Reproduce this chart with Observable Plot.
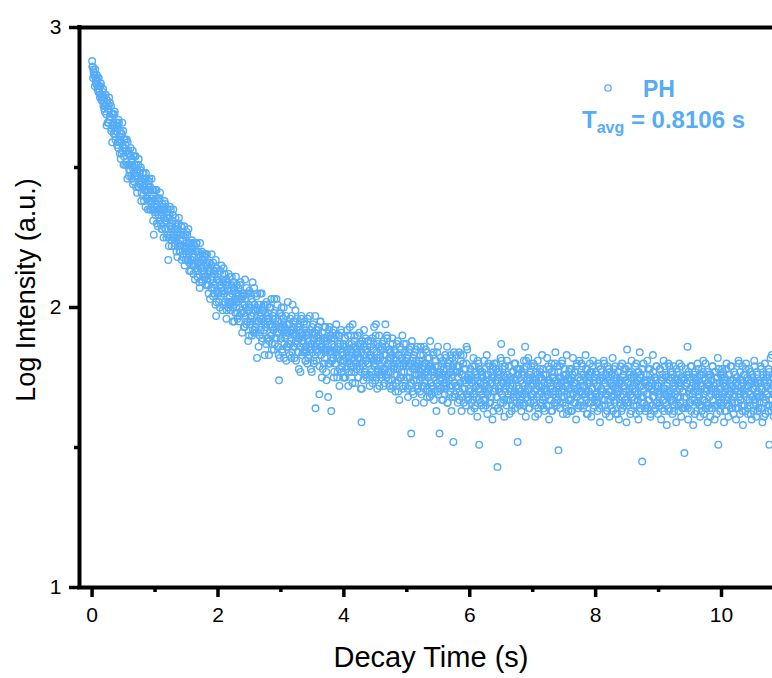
<!DOCTYPE html>
<html>
<head>
<meta charset="utf-8">
<script src="https://cdn.jsdelivr.net/npm/d3@7"></script>
<script src="https://cdn.jsdelivr.net/npm/@observablehq/plot@0.6"></script>
<style>
  html, body { margin: 0; padding: 0; background: #fff; }
  #chart { width: 772px; height: 678px; }
</style>
</head>
<body>
<div id="chart"></div>
<script>
// Sample times (s), first half of readouts
const decayTime = [
0.00,0.01,0.02,0.03,0.04,0.05,0.06,0.07,0.08,0.09,0.10,0.11,0.12,0.13,0.14,0.15,0.16,0.17,0.18,0.19,
0.20,0.21,0.22,0.23,0.24,0.25,0.26,0.27,0.28,0.29,0.30,0.31,0.32,0.33,0.34,0.35,0.36,0.37,0.38,0.39,
0.40,0.41,0.42,0.43,0.44,0.45,0.46,0.47,0.48,0.49,0.50,0.51,0.52,0.53,0.54,0.55,0.56,0.57,0.58,0.59,
0.60,0.61,0.62,0.63,0.64,0.65,0.66,0.67,0.68,0.69,0.70,0.71,0.72,0.73,0.74,0.75,0.76,0.77,0.78,0.79,
0.80,0.81,0.82,0.83,0.84,0.85,0.86,0.87,0.88,0.89,0.90,0.91,0.92,0.93,0.94,0.95,0.96,0.97,0.98,0.99,
1.00,1.01,1.02,1.03,1.04,1.05,1.06,1.07,1.08,1.09,1.10,1.11,1.12,1.13,1.14,1.15,1.16,1.17,1.18,1.19,
1.20,1.21,1.22,1.23,1.24,1.25,1.26,1.27,1.28,1.29,1.30,1.31,1.32,1.33,1.34,1.35,1.36,1.37,1.38,1.39,
1.40,1.41,1.42,1.43,1.44,1.45,1.46,1.47,1.48,1.49,1.50,1.51,1.52,1.53,1.54,1.55,1.56,1.57,1.58,1.59,
1.60,1.61,1.62,1.63,1.64,1.65,1.66,1.67,1.68,1.69,1.70,1.71,1.72,1.73,1.74,1.75,1.76,1.77,1.78,1.79,
1.80,1.81,1.82,1.83,1.84,1.85,1.86,1.87,1.88,1.89,1.90,1.91,1.92,1.93,1.94,1.95,1.96,1.97,1.98,1.99,
2.00,2.01,2.02,2.03,2.04,2.05,2.06,2.07,2.08,2.09,2.10,2.11,2.12,2.13,2.14,2.15,2.16,2.17,2.18,2.19,
2.20,2.21,2.22,2.23,2.24,2.25,2.26,2.27,2.28,2.29,2.30,2.31,2.32,2.33,2.34,2.35,2.36,2.37,2.38,2.39,
2.40,2.41,2.42,2.43,2.44,2.45,2.46,2.47,2.48,2.49,2.50,2.51,2.52,2.53,2.54,2.55,2.56,2.57,2.58,2.59,
2.60,2.61,2.62,2.63,2.64,2.65,2.66,2.67,2.68,2.69,2.70,2.71,2.72,2.73,2.74,2.75,2.76,2.77,2.78,2.79,
2.80,2.81,2.82,2.83,2.84,2.85,2.86,2.87,2.88,2.89,2.90,2.91,2.92,2.93,2.94,2.95,2.96,2.97,2.98,2.99,
3.00,3.01,3.02,3.03,3.04,3.05,3.06,3.07,3.08,3.09,3.10,3.11,3.12,3.13,3.14,3.15,3.16,3.17,3.18,3.19,
3.20,3.21,3.22,3.23,3.24,3.25,3.26,3.27,3.28,3.29,3.30,3.31,3.32,3.33,3.34,3.35,3.36,3.37,3.38,3.39,
3.40,3.41,3.42,3.43,3.44,3.45,3.46,3.47,3.48,3.49,3.50,3.51,3.52,3.53,3.54,3.55,3.56,3.57,3.58,3.59,
3.60,3.61,3.62,3.63,3.64,3.65,3.66,3.67,3.68,3.69,3.70,3.71,3.72,3.73,3.74,3.75,3.76,3.77,3.78,3.79,
3.80,3.81,3.82,3.83,3.84,3.85,3.86,3.87,3.88,3.89,3.90,3.91,3.92,3.93,3.94,3.95,3.96,3.97,3.98,3.99,
4.00,4.01,4.02,4.03,4.04,4.05,4.06,4.07,4.08,4.09,4.10,4.11,4.12,4.13,4.14,4.15,4.16,4.17,4.18,4.19,
4.20,4.21,4.22,4.23,4.24,4.25,4.26,4.27,4.28,4.29,4.30,4.31,4.32,4.33,4.34,4.35,4.36,4.37,4.38,4.39,
4.40,4.41,4.42,4.43,4.44,4.45,4.46,4.47,4.48,4.49,4.50,4.51,4.52,4.53,4.54,4.55,4.56,4.57,4.58,4.59,
4.60,4.61,4.62,4.63,4.64,4.65,4.66,4.67,4.68,4.69,4.70,4.71,4.72,4.73,4.74,4.75,4.76,4.77,4.78,4.79,
4.80,4.81,4.82,4.83,4.84,4.85,4.86,4.87,4.88,4.89,4.90,4.91,4.92,4.93,4.94,4.95,4.96,4.97,4.98,4.99,
5.00,5.01,5.02,5.03,5.04,5.05,5.06,5.07,5.08,5.09,5.10,5.11,5.12,5.13,5.14,5.15,5.16,5.17,5.18,5.19,
5.20,5.21,5.22,5.23,5.24,5.25,5.26,5.27,5.28,5.29,5.30,5.31,5.32,5.33,5.34,5.35,5.36,5.37,5.38,5.39,
5.40,5.41,5.42,5.43,5.44,5.45,5.46,5.47,5.48,5.49,5.50,5.51,5.52,5.53,5.54,5.55,5.56,5.57,5.58,5.59,
5.60,5.61,5.62,5.63,5.64,5.65,5.66,5.67,5.68,5.69,5.70,5.71,5.72,5.73,5.74,5.75,5.76,5.77,5.78,5.79,
5.80,5.81,5.82,5.83,5.84,5.85,5.86,5.87,5.88,5.89,5.90,5.91,5.92,5.93,5.94,5.95,5.96,5.97,5.98,5.99,
6.00,6.01,6.02,6.03,6.04,6.05,6.06,6.07,6.08,6.09,6.10,6.11,6.12,6.13,6.14,6.15,6.16,6.17,6.18,6.19,
6.20,6.21,6.22,6.23,6.24,6.25,6.26,6.27,6.28,6.29,6.30,6.31,6.32,6.33,6.34,6.35,6.36,6.37,6.38,6.39,
6.40,6.41,6.42,6.43,6.44,6.45,6.46,6.47,6.48,6.49,6.50,6.51,6.52,6.53,6.54,6.55,6.56,6.57,6.58,6.59,
6.60,6.61,6.62,6.63,6.64,6.65,6.66,6.67,6.68,6.69,6.70,6.71,6.72,6.73,6.74,6.75,6.76,6.77,6.78,6.79,
6.80,6.81,6.82,6.83,6.84,6.85,6.86,6.87,6.88,6.89,6.90,6.91,6.92,6.93,6.94,6.95,6.96,6.97,6.98,6.99,
7.00,7.01,7.02,7.03,7.04,7.05,7.06,7.07,7.08,7.09,7.10,7.11,7.12,7.13,7.14,7.15,7.16,7.17,7.18,7.19,
7.20,7.21,7.22,7.23,7.24,7.25,7.26,7.27,7.28,7.29,7.30,7.31,7.32,7.33,7.34,7.35,7.36,7.37,7.38,7.39,
7.40,7.41,7.42,7.43,7.44,7.45,7.46,7.47,7.48,7.49,7.50,7.51,7.52,7.53,7.54,7.55,7.56,7.57,7.58,7.59,
7.60,7.61,7.62,7.63,7.64,7.65,7.66,7.67,7.68,7.69,7.70,7.71,7.72,7.73,7.74,7.75,7.76,7.77,7.78,7.79,
7.80,7.81,7.82,7.83,7.84,7.85,7.86,7.87,7.88,7.89,7.90,7.91,7.92,7.93,7.94,7.95,7.96,7.97,7.98,7.99,
8.00,8.01,8.02,8.03,8.04,8.05,8.06,8.07,8.08,8.09,8.10,8.11,8.12,8.13,8.14,8.15,8.16,8.17,8.18,8.19,
8.20,8.21,8.22,8.23,8.24,8.25,8.26,8.27,8.28,8.29,8.30,8.31,8.32,8.33,8.34,8.35,8.36,8.37,8.38,8.39,
8.40,8.41,8.42,8.43,8.44,8.45,8.46,8.47,8.48,8.49,8.50,8.51,8.52,8.53,8.54,8.55,8.56,8.57,8.58,8.59,
8.60,8.61,8.62,8.63,8.64,8.65,8.66,8.67,8.68,8.69,8.70,8.71,8.72,8.73,8.74,8.75,8.76,8.77,8.78,8.79,
8.80,8.81,8.82,8.83,8.84,8.85,8.86,8.87,8.88,8.89,8.90,8.91,8.92,8.93,8.94,8.95,8.96,8.97,8.98,8.99,
9.00,9.01,9.02,9.03,9.04,9.05,9.06,9.07,9.08,9.09,9.10,9.11,9.12,9.13,9.14,9.15,9.16,9.17,9.18,9.19,
9.20,9.21,9.22,9.23,9.24,9.25,9.26,9.27,9.28,9.29,9.30,9.31,9.32,9.33,9.34,9.35,9.36,9.37,9.38,9.39,
9.40,9.41,9.42,9.43,9.44,9.45,9.46,9.47,9.48,9.49,9.50,9.51,9.52,9.53,9.54,9.55,9.56,9.57,9.58,9.59,
9.60,9.61,9.62,9.63,9.64,9.65,9.66,9.67,9.68,9.69,9.70,9.71,9.72,9.73,9.74,9.75,9.76,9.77,9.78,9.79,
9.80,9.81,9.82,9.83,9.84,9.85,9.86,9.87,9.88,9.89,9.90,9.91,9.92,9.93,9.94,9.95,9.96,9.97,9.98,9.99,
10.00,10.01,10.02,10.03,10.04,10.05,10.06,10.07,10.08,10.09,10.10,10.11,10.12,10.13,10.14,10.15,10.16,10.17,10.18,10.19,
10.20,10.21,10.22,10.23,10.24,10.25,10.26,10.27,10.28,10.29,10.30,10.31,10.32,10.33,10.34,10.35,10.36,10.37,10.38,10.39,
10.40,10.41,10.42,10.43,10.44,10.45,10.46,10.47,10.48,10.49,10.50,10.51,10.52,10.53,10.54,10.55,10.56,10.57,10.58,10.59,
10.60,10.61,10.62,10.63,10.64,10.65,10.66,10.67,10.68,10.69,10.70,10.71,10.72,10.73,10.74,10.75,10.76,10.77,10.78,10.79,
10.80,10.81,10.82,10.83,10.84,10.85,10.86,10.87,10.88,10.89,10.90,10.91,10.92,10.93,10.94,10.95,10.96,10.97,10.98,10.99
];

// Log intensity (a.u.) at decayTime
const logIntensity = [
2.88,2.86,2.85,2.83,2.83,2.85,2.80,2.80,2.81,2.82,2.77,2.78,2.79,2.76,2.80,2.74,2.75,2.77,2.72,2.75,
2.70,2.76,2.72,2.65,2.74,2.71,2.66,2.75,2.68,2.68,2.72,2.64,2.59,2.69,2.66,2.64,2.70,2.60,2.63,2.66,
2.66,2.59,2.67,2.61,2.55,2.60,2.62,2.55,2.66,2.57,2.51,2.60,2.60,2.56,2.52,2.60,2.46,2.55,2.56,2.49,
2.51,2.57,2.47,2.53,2.50,2.44,2.54,2.50,2.47,2.54,2.43,2.48,2.49,2.43,2.53,2.45,2.44,2.49,2.38,2.45,
2.46,2.40,2.48,2.42,2.46,2.36,2.42,2.46,2.39,2.42,2.38,2.46,2.35,2.42,2.39,2.38,2.42,2.31,2.26,2.35,
2.34,2.42,2.37,2.30,2.36,2.39,2.33,2.35,2.41,2.30,2.34,2.28,2.36,2.35,2.32,2.38,2.28,2.31,2.25,2.34,
2.35,2.17,2.22,2.32,2.29,2.35,2.24,2.29,2.25,2.35,2.26,2.22,2.28,2.30,2.20,2.26,2.28,2.23,2.32,2.20,
2.20,2.26,2.29,2.22,2.18,2.26,2.22,2.15,2.26,2.22,2.19,2.26,2.17,2.28,2.16,2.20,2.21,2.13,2.22,2.17,
2.21,2.12,2.18,2.22,2.15,2.13,2.23,2.16,2.13,2.18,2.19,2.07,2.16,2.14,2.20,2.09,2.17,2.12,2.13,2.18,
2.11,2.19,2.08,2.12,2.15,2.05,2.13,2.16,2.10,2.07,2.19,2.11,2.04,2.13,2.07,2.13,2.01,1.97,2.14,2.05,
2.12,2.05,2.09,2.00,2.13,2.07,2.05,2.10,2.01,2.14,2.05,2.02,2.08,2.10,1.99,2.06,2.02,2.12,2.02,2.04,
1.99,2.06,2.11,2.02,2.00,2.07,1.95,2.03,2.05,2.00,2.08,1.96,2.03,2.05,1.97,2.03,2.09,1.98,1.99,2.05,
2.04,1.93,2.01,2.10,1.97,1.94,2.05,1.99,1.88,2.01,2.06,1.94,1.97,2.03,1.90,2.09,1.98,1.91,2.01,1.95,
1.93,2.04,1.82,1.99,2.01,1.95,1.90,2.05,1.97,1.93,1.88,1.99,1.95,2.01,1.83,1.98,1.93,2.02,1.89,1.95,
1.96,1.83,2.00,1.91,1.94,2.03,1.87,1.97,1.92,1.85,1.98,1.94,1.89,2.03,1.91,1.86,1.95,1.74,1.82,1.98,
1.89,2.00,1.85,1.93,1.96,1.82,1.93,1.90,1.97,1.86,1.91,2.02,1.87,1.94,1.83,1.96,1.88,1.97,1.84,1.91,
1.95,1.86,1.90,1.99,1.81,1.92,1.87,1.93,1.84,1.89,1.92,1.77,1.96,1.88,1.91,1.84,1.88,1.95,1.85,1.81,
1.86,1.94,1.80,1.91,1.88,1.83,1.97,1.85,1.87,1.77,1.91,1.94,1.81,1.89,1.86,1.64,1.92,1.87,1.84,1.92,
1.90,1.69,1.86,1.95,1.83,1.75,1.91,1.85,1.80,1.88,1.93,1.84,1.77,1.88,1.85,1.68,1.80,1.93,1.80,1.84,
1.63,1.87,1.91,1.82,1.75,1.89,1.84,1.80,1.94,1.83,1.77,1.86,1.90,1.72,1.87,1.81,1.91,1.79,1.84,1.75,
1.86,1.75,1.89,1.82,1.78,1.92,1.85,1.72,1.87,1.83,1.80,1.90,1.77,1.84,1.94,1.79,1.81,1.88,1.73,1.86,
1.78,1.84,1.90,1.75,1.82,1.79,1.87,1.71,1.59,1.88,1.80,1.74,1.92,1.77,1.85,1.81,1.75,1.85,1.80,1.88,
1.82,1.72,1.86,1.83,1.77,1.89,1.75,1.81,1.93,1.79,1.74,1.94,1.82,1.71,1.87,1.78,1.90,1.76,1.82,1.79,
1.75,1.87,1.78,1.72,1.83,1.81,1.94,1.86,1.76,1.89,1.80,1.74,1.82,1.85,1.77,1.71,1.83,1.89,1.72,1.80,
1.85,1.76,1.70,1.81,1.87,1.78,1.74,1.83,1.67,1.86,1.79,1.75,1.82,1.90,1.71,1.80,1.77,1.84,1.72,1.87,
1.75,1.83,1.68,1.79,1.85,1.72,1.80,1.55,1.88,1.70,1.82,1.74,1.78,1.84,1.66,1.81,1.76,1.86,1.72,1.78,
1.81,1.70,1.86,1.75,1.72,1.78,1.83,1.66,1.80,1.74,1.85,1.77,1.68,1.82,1.76,1.79,1.70,1.88,1.73,1.69,
1.78,1.72,1.83,1.67,1.77,1.81,1.74,1.63,1.84,1.70,1.79,1.76,1.55,1.71,1.75,1.79,1.67,1.81,1.72,1.76,
1.69,1.83,1.75,1.72,1.86,1.66,1.79,1.74,1.81,1.70,1.77,1.63,1.82,1.76,1.52,1.84,1.68,1.77,1.72,1.79,
1.77,1.66,1.79,1.84,1.70,1.73,1.81,1.63,1.76,1.68,1.83,1.74,1.71,1.78,1.65,1.86,1.85,1.68,1.74,1.71,
1.70,1.78,1.63,1.75,1.73,1.67,1.82,1.69,1.79,1.65,1.72,1.76,1.61,1.74,1.80,1.51,1.71,1.77,1.66,1.75,
1.77,1.69,1.64,1.81,1.72,1.67,1.74,1.83,1.62,1.76,1.71,1.66,1.79,1.73,1.68,1.75,1.60,1.78,1.70,1.80,
1.65,1.74,1.80,1.68,1.43,1.77,1.71,1.63,1.76,1.82,1.87,1.69,1.78,1.66,1.73,1.61,1.79,1.75,1.67,1.81,
1.73,1.67,1.79,1.62,1.75,1.70,1.84,1.65,1.72,1.77,1.69,1.80,1.64,1.74,1.68,1.78,1.52,1.76,1.71,1.66,
1.78,1.70,1.63,1.76,1.73,1.66,1.81,1.69,1.86,1.61,1.79,1.74,1.67,1.82,1.71,1.64,1.75,1.77,1.68,1.72,
1.69,1.80,1.66,1.74,1.61,1.77,1.73,1.68,1.81,1.64,1.75,1.72,1.78,1.70,1.65,1.83,1.67,1.76,1.71,1.63,
1.76,1.71,1.65,1.82,1.69,1.74,1.60,1.78,1.73,1.67,1.80,1.63,1.75,1.70,1.77,1.66,1.84,1.68,1.72,1.79,
1.67,1.49,1.75,1.79,1.64,1.73,1.70,1.81,1.62,1.76,1.68,1.78,1.72,1.66,1.83,1.69,1.74,1.63,1.77,1.71,
1.74,1.63,1.78,1.69,1.82,1.66,1.73,1.71,1.77,1.60,1.80,1.68,1.75,1.65,1.81,1.72,1.67,1.76,1.70,1.79,
1.64,1.76,1.72,1.68,1.83,1.70,1.62,1.78,1.75,1.66,1.73,1.80,1.69,1.61,1.77,1.71,1.81,1.65,1.74,1.67,
1.77,1.68,1.72,1.63,1.80,1.66,1.74,1.59,1.78,1.71,1.65,1.75,1.70,1.81,1.67,1.73,1.62,1.76,1.69,1.79,
1.67,1.78,1.61,1.73,1.70,1.76,1.64,1.82,1.68,1.72,1.66,1.79,1.62,1.75,1.71,1.69,1.77,1.60,1.74,1.65,
1.74,1.63,1.80,1.69,1.76,1.65,1.72,1.67,1.78,1.59,1.85,1.73,1.66,1.77,1.70,1.62,1.75,1.81,1.68,1.71,
1.65,1.75,1.70,1.79,1.62,1.73,1.77,1.67,1.60,1.74,1.84,1.64,1.76,1.72,1.45,1.68,1.80,1.66,1.73,1.63,
1.76,1.69,1.81,1.64,1.72,1.67,1.78,1.61,1.74,1.71,1.65,1.83,1.68,1.63,1.75,1.72,1.66,1.79,1.70,1.62,
1.72,1.65,1.78,1.69,1.60,1.74,1.76,1.67,1.81,1.63,1.71,1.66,1.75,1.58,1.73,1.70,1.64,1.79,1.68,1.77,
1.67,1.76,1.62,1.71,1.79,1.65,1.69,1.74,1.59,1.77,1.68,1.73,1.63,1.80,1.66,1.72,1.61,1.75,1.70,1.64,
1.74,1.48,1.64,1.78,1.68,1.73,1.86,1.60,1.76,1.66,1.71,1.79,1.63,1.72,1.69,1.58,1.75,1.67,1.77,1.70,
1.63,1.73,1.80,1.66,1.69,1.76,1.61,1.72,1.65,1.78,1.67,1.81,1.62,1.71,1.74,1.64,1.70,1.77,1.59,1.73,
1.76,1.68,1.61,1.74,1.71,1.64,1.79,1.67,1.72,1.60,1.77,1.69,1.75,1.65,1.82,1.51,1.66,1.73,1.63,1.71,
1.65,1.78,1.68,1.73,1.59,1.75,1.70,1.63,1.80,1.67,1.71,1.61,1.76,1.69,1.74,1.64,1.79,1.66,1.72,1.62,
1.77,1.66,1.71,1.60,1.75,1.72,1.64,1.81,1.68,1.62,1.74,1.70,1.65,1.79,1.58,1.73,1.69,1.76,1.63,1.80,
1.67,1.75,1.62,1.72,1.78,1.65,1.69,1.74,1.60,1.76,1.71,1.63,1.81,1.67,1.73,1.61,1.77,1.68,1.70,1.64,
1.74,1.68,1.79,1.64,1.71,1.59,1.76,1.66,1.73,1.80,1.62,1.72,1.69,1.75,1.65,1.78,1.51,1.67,1.82,1.63,
1.83,1.65,1.72,1.61,1.76,1.69,1.74,1.63,1.79,1.67,1.71,1.59,1.75,1.68,1.78,1.64,1.70,1.73,1.62,1.80
];

// Sample times (s), interleaved second half of readouts
const decayTimeB = [
0.005,0.015,0.025,0.035,0.045,0.055,0.065,0.075,0.085,0.095,0.105,0.115,0.125,0.135,0.145,0.155,0.165,0.175,0.185,0.195,
0.205,0.215,0.225,0.235,0.245,0.255,0.265,0.275,0.285,0.295,0.305,0.315,0.325,0.335,0.345,0.355,0.365,0.375,0.385,0.395,
0.405,0.415,0.425,0.435,0.445,0.455,0.465,0.475,0.485,0.495,0.505,0.515,0.525,0.535,0.545,0.555,0.565,0.575,0.585,0.595,
0.605,0.615,0.625,0.635,0.645,0.655,0.665,0.675,0.685,0.695,0.705,0.715,0.725,0.735,0.745,0.755,0.765,0.775,0.785,0.795,
0.805,0.815,0.825,0.835,0.845,0.855,0.865,0.875,0.885,0.895,0.905,0.915,0.925,0.935,0.945,0.955,0.965,0.975,0.985,0.995,
1.005,1.015,1.025,1.035,1.045,1.055,1.065,1.075,1.085,1.095,1.105,1.115,1.125,1.135,1.145,1.155,1.165,1.175,1.185,1.195,
1.205,1.215,1.225,1.235,1.245,1.255,1.265,1.275,1.285,1.295,1.305,1.315,1.325,1.335,1.345,1.355,1.365,1.375,1.385,1.395,
1.405,1.415,1.425,1.435,1.445,1.455,1.465,1.475,1.485,1.495,1.505,1.515,1.525,1.535,1.545,1.555,1.565,1.575,1.585,1.595,
1.605,1.615,1.625,1.635,1.645,1.655,1.665,1.675,1.685,1.695,1.705,1.715,1.725,1.735,1.745,1.755,1.765,1.775,1.785,1.795,
1.805,1.815,1.825,1.835,1.845,1.855,1.865,1.875,1.885,1.895,1.905,1.915,1.925,1.935,1.945,1.955,1.965,1.975,1.985,1.995,
2.005,2.015,2.025,2.035,2.045,2.055,2.065,2.075,2.085,2.095,2.105,2.115,2.125,2.135,2.145,2.155,2.165,2.175,2.185,2.195,
2.205,2.215,2.225,2.235,2.245,2.255,2.265,2.275,2.285,2.295,2.305,2.315,2.325,2.335,2.345,2.355,2.365,2.375,2.385,2.395,
2.405,2.415,2.425,2.435,2.445,2.455,2.465,2.475,2.485,2.495,2.505,2.515,2.525,2.535,2.545,2.555,2.565,2.575,2.585,2.595,
2.605,2.615,2.625,2.635,2.645,2.655,2.665,2.675,2.685,2.695,2.705,2.715,2.725,2.735,2.745,2.755,2.765,2.775,2.785,2.795,
2.805,2.815,2.825,2.835,2.845,2.855,2.865,2.875,2.885,2.895,2.905,2.915,2.925,2.935,2.945,2.955,2.965,2.975,2.985,2.995,
3.005,3.015,3.025,3.035,3.045,3.055,3.065,3.075,3.085,3.095,3.105,3.115,3.125,3.135,3.145,3.155,3.165,3.175,3.185,3.195,
3.205,3.215,3.225,3.235,3.245,3.255,3.265,3.275,3.285,3.295,3.305,3.315,3.325,3.335,3.345,3.355,3.365,3.375,3.385,3.395,
3.405,3.415,3.425,3.435,3.445,3.455,3.465,3.475,3.485,3.495,3.505,3.515,3.525,3.535,3.545,3.555,3.565,3.575,3.585,3.595,
3.605,3.615,3.625,3.635,3.645,3.655,3.665,3.675,3.685,3.695,3.705,3.715,3.725,3.735,3.745,3.755,3.765,3.775,3.785,3.795,
3.805,3.815,3.825,3.835,3.845,3.855,3.865,3.875,3.885,3.895,3.905,3.915,3.925,3.935,3.945,3.955,3.965,3.975,3.985,3.995,
4.005,4.015,4.025,4.035,4.045,4.055,4.065,4.075,4.085,4.095,4.105,4.115,4.125,4.135,4.145,4.155,4.165,4.175,4.185,4.195,
4.205,4.215,4.225,4.235,4.245,4.255,4.265,4.275,4.285,4.295,4.305,4.315,4.325,4.335,4.345,4.355,4.365,4.375,4.385,4.395,
4.405,4.415,4.425,4.435,4.445,4.455,4.465,4.475,4.485,4.495,4.505,4.515,4.525,4.535,4.545,4.555,4.565,4.575,4.585,4.595,
4.605,4.615,4.625,4.635,4.645,4.655,4.665,4.675,4.685,4.695,4.705,4.715,4.725,4.735,4.745,4.755,4.765,4.775,4.785,4.795,
4.805,4.815,4.825,4.835,4.845,4.855,4.865,4.875,4.885,4.895,4.905,4.915,4.925,4.935,4.945,4.955,4.965,4.975,4.985,4.995,
5.005,5.015,5.025,5.035,5.045,5.055,5.065,5.075,5.085,5.095,5.105,5.115,5.125,5.135,5.145,5.155,5.165,5.175,5.185,5.195,
5.205,5.215,5.225,5.235,5.245,5.255,5.265,5.275,5.285,5.295,5.305,5.315,5.325,5.335,5.345,5.355,5.365,5.375,5.385,5.395,
5.405,5.415,5.425,5.435,5.445,5.455,5.465,5.475,5.485,5.495,5.505,5.515,5.525,5.535,5.545,5.555,5.565,5.575,5.585,5.595,
5.605,5.615,5.625,5.635,5.645,5.655,5.665,5.675,5.685,5.695,5.705,5.715,5.725,5.735,5.745,5.755,5.765,5.775,5.785,5.795,
5.805,5.815,5.825,5.835,5.845,5.855,5.865,5.875,5.885,5.895,5.905,5.915,5.925,5.935,5.945,5.955,5.965,5.975,5.985,5.995,
6.005,6.015,6.025,6.035,6.045,6.055,6.065,6.075,6.085,6.095,6.105,6.115,6.125,6.135,6.145,6.155,6.165,6.175,6.185,6.195,
6.205,6.215,6.225,6.235,6.245,6.255,6.265,6.275,6.285,6.295,6.305,6.315,6.325,6.335,6.345,6.355,6.365,6.375,6.385,6.395,
6.405,6.415,6.425,6.435,6.445,6.455,6.465,6.475,6.485,6.495,6.505,6.515,6.525,6.535,6.545,6.555,6.565,6.575,6.585,6.595,
6.605,6.615,6.625,6.635,6.645,6.655,6.665,6.675,6.685,6.695,6.705,6.715,6.725,6.735,6.745,6.755,6.765,6.775,6.785,6.795,
6.805,6.815,6.825,6.835,6.845,6.855,6.865,6.875,6.885,6.895,6.905,6.915,6.925,6.935,6.945,6.955,6.965,6.975,6.985,6.995,
7.005,7.015,7.025,7.035,7.045,7.055,7.065,7.075,7.085,7.095,7.105,7.115,7.125,7.135,7.145,7.155,7.165,7.175,7.185,7.195,
7.205,7.215,7.225,7.235,7.245,7.255,7.265,7.275,7.285,7.295,7.305,7.315,7.325,7.335,7.345,7.355,7.365,7.375,7.385,7.395,
7.405,7.415,7.425,7.435,7.445,7.455,7.465,7.475,7.485,7.495,7.505,7.515,7.525,7.535,7.545,7.555,7.565,7.575,7.585,7.595,
7.605,7.615,7.625,7.635,7.645,7.655,7.665,7.675,7.685,7.695,7.705,7.715,7.725,7.735,7.745,7.755,7.765,7.775,7.785,7.795,
7.805,7.815,7.825,7.835,7.845,7.855,7.865,7.875,7.885,7.895,7.905,7.915,7.925,7.935,7.945,7.955,7.965,7.975,7.985,7.995,
8.005,8.015,8.025,8.035,8.045,8.055,8.065,8.075,8.085,8.095,8.105,8.115,8.125,8.135,8.145,8.155,8.165,8.175,8.185,8.195,
8.205,8.215,8.225,8.235,8.245,8.255,8.265,8.275,8.285,8.295,8.305,8.315,8.325,8.335,8.345,8.355,8.365,8.375,8.385,8.395,
8.405,8.415,8.425,8.435,8.445,8.455,8.465,8.475,8.485,8.495,8.505,8.515,8.525,8.535,8.545,8.555,8.565,8.575,8.585,8.595,
8.605,8.615,8.625,8.635,8.645,8.655,8.665,8.675,8.685,8.695,8.705,8.715,8.725,8.735,8.745,8.755,8.765,8.775,8.785,8.795,
8.805,8.815,8.825,8.835,8.845,8.855,8.865,8.875,8.885,8.895,8.905,8.915,8.925,8.935,8.945,8.955,8.965,8.975,8.985,8.995,
9.005,9.015,9.025,9.035,9.045,9.055,9.065,9.075,9.085,9.095,9.105,9.115,9.125,9.135,9.145,9.155,9.165,9.175,9.185,9.195,
9.205,9.215,9.225,9.235,9.245,9.255,9.265,9.275,9.285,9.295,9.305,9.315,9.325,9.335,9.345,9.355,9.365,9.375,9.385,9.395,
9.405,9.415,9.425,9.435,9.445,9.455,9.465,9.475,9.485,9.495,9.505,9.515,9.525,9.535,9.545,9.555,9.565,9.575,9.585,9.595,
9.605,9.615,9.625,9.635,9.645,9.655,9.665,9.675,9.685,9.695,9.705,9.715,9.725,9.735,9.745,9.755,9.765,9.775,9.785,9.795,
9.805,9.815,9.825,9.835,9.845,9.855,9.865,9.875,9.885,9.895,9.905,9.915,9.925,9.935,9.945,9.955,9.965,9.975,9.985,9.995,
10.005,10.015,10.025,10.035,10.045,10.055,10.065,10.075,10.085,10.095,10.105,10.115,10.125,10.135,10.145,10.155,10.165,10.175,10.185,10.195,
10.205,10.215,10.225,10.235,10.245,10.255,10.265,10.275,10.285,10.295,10.305,10.315,10.325,10.335,10.345,10.355,10.365,10.375,10.385,10.395,
10.405,10.415,10.425,10.435,10.445,10.455,10.465,10.475,10.485,10.495,10.505,10.515,10.525,10.535,10.545,10.555,10.565,10.575,10.585,10.595,
10.605,10.615,10.625,10.635,10.645,10.655,10.665,10.675,10.685,10.695,10.705,10.715,10.725,10.735,10.745,10.755,10.765,10.775,10.785,10.795,
10.805,10.815,10.825,10.835,10.845,10.855,10.865,10.875,10.885,10.895,10.905,10.915,10.925,10.935,10.945,10.955,10.965,10.975,10.985,10.995
];

// Log intensity (a.u.) at decayTimeB
const logIntensityB = [
2.86,2.82,2.84,2.83,2.79,2.82,2.81,2.83,2.78,2.79,2.82,2.77,2.75,2.79,2.76,2.74,2.75,2.78,2.73,2.71,
2.72,2.76,2.69,2.73,2.66,2.71,2.72,2.67,2.73,2.68,2.63,2.69,2.65,2.69,2.62,2.69,2.62,2.63,2.65,2.58,
2.64,2.57,2.66,2.59,2.63,2.53,2.59,2.62,2.56,2.63,2.54,2.57,2.51,2.58,2.56,2.51,2.59,2.51,2.47,2.55,
2.49,2.54,2.52,2.46,2.56,2.48,2.45,2.51,2.54,2.47,2.51,2.41,2.47,2.51,2.43,2.48,2.44,2.50,2.41,2.45,
2.48,2.43,2.38,2.46,2.42,2.48,2.39,2.42,2.35,2.43,2.45,2.38,2.43,2.35,2.46,2.38,2.35,2.42,2.36,2.38,
2.33,2.39,2.42,2.34,2.29,2.38,2.35,2.39,2.31,2.35,2.28,2.37,2.35,2.25,2.35,2.31,2.37,2.28,2.32,2.26,
2.32,2.25,2.33,2.36,2.26,2.28,2.22,2.31,2.33,2.25,2.28,2.23,2.32,2.25,2.29,2.18,2.27,2.30,2.22,2.24,
2.22,2.29,2.17,2.24,2.27,2.19,2.29,2.21,2.17,2.23,2.27,2.17,2.20,2.23,2.13,2.23,2.17,2.20,2.24,2.15,
2.23,2.15,2.18,2.10,2.20,2.23,2.14,2.11,2.20,2.16,2.09,2.23,2.14,2.17,2.10,2.19,2.11,2.15,2.19,2.11,
2.08,2.16,2.19,2.10,2.08,2.13,2.16,2.03,2.13,2.15,2.07,2.10,2.16,2.05,2.12,2.08,2.17,2.02,2.10,2.06,
2.10,2.02,2.13,2.08,2.04,2.15,2.06,1.99,2.09,2.06,2.12,2.02,2.08,1.96,2.09,2.06,2.00,2.08,2.11,2.02,
2.01,2.08,2.05,1.95,2.09,2.01,2.06,1.98,2.11,2.02,1.98,2.04,2.07,1.95,2.00,2.08,1.98,2.03,1.91,2.04,
2.05,1.98,1.93,2.03,2.00,2.07,1.95,1.99,2.05,1.90,2.00,1.95,2.05,1.97,2.02,1.92,1.99,2.07,1.92,1.99,
1.91,2.00,2.05,1.95,1.86,2.01,1.96,1.92,1.98,2.05,1.89,1.96,1.99,1.92,2.01,1.94,1.87,1.97,2.01,1.89,
1.98,1.88,1.94,2.00,1.90,1.85,1.93,1.96,1.92,2.03,1.87,1.96,1.93,1.89,2.01,1.91,1.83,1.98,1.93,1.89,
1.92,1.97,1.84,1.94,2.00,1.87,1.89,1.92,1.81,1.94,1.91,1.86,1.94,1.91,1.87,1.92,1.82,1.92,2.01,1.86,
1.93,1.82,1.95,1.88,1.90,1.96,1.84,1.89,1.78,1.93,1.91,1.86,1.97,1.83,1.90,1.87,1.94,1.84,1.91,1.81,
1.84,1.90,1.96,1.82,1.91,1.86,1.92,1.78,1.87,1.93,1.84,1.88,1.80,1.91,1.97,1.85,1.81,1.89,1.85,1.93,
1.88,1.79,1.95,1.83,1.86,1.91,1.78,1.89,1.85,1.82,1.93,1.85,1.74,1.89,1.87,1.80,1.92,1.84,1.90,1.81,
1.89,1.81,1.84,1.92,1.77,1.86,1.80,1.90,1.85,1.75,1.87,1.82,1.90,1.78,1.85,1.92,1.77,1.83,1.81,1.87,
1.81,1.89,1.75,1.86,1.84,1.79,1.90,1.82,1.77,1.93,1.85,1.79,1.87,1.73,1.82,1.86,1.77,1.90,1.80,1.83,
1.85,1.82,1.75,1.87,1.91,1.78,1.82,1.84,1.71,1.88,1.79,1.86,1.83,1.76,1.89,1.81,1.76,1.84,1.88,1.80,
1.76,1.83,1.88,1.78,1.82,1.73,1.85,1.87,1.79,1.80,1.90,1.75,1.84,1.81,1.77,1.86,1.72,1.83,1.85,1.77,
1.86,1.76,1.81,1.88,1.73,1.78,1.83,1.75,1.90,1.80,1.77,1.85,1.72,1.82,1.84,1.79,1.74,1.87,1.78,1.82,
1.79,1.84,1.73,1.81,1.76,1.88,1.70,1.83,1.80,1.75,1.85,1.77,1.82,1.72,1.79,1.87,1.74,1.81,1.79,1.82,
1.82,1.71,1.80,1.84,1.75,1.77,1.86,1.73,1.81,1.78,1.69,1.83,1.76,1.79,1.85,1.74,1.79,1.71,1.80,1.76,
1.74,1.83,1.77,1.69,1.81,1.79,1.72,1.86,1.76,1.73,1.80,1.84,1.71,1.78,1.75,1.82,1.68,1.79,1.77,1.71,
1.78,1.72,1.84,1.75,1.70,1.79,1.81,1.73,1.76,1.86,1.69,1.77,1.74,1.82,1.71,1.80,1.76,1.67,1.78,1.73,
1.71,1.82,1.73,1.78,1.66,1.76,1.80,1.69,1.77,1.83,1.72,1.75,1.68,1.79,1.80,1.73,1.69,1.83,1.72,1.77,
1.79,1.72,1.75,1.67,1.77,1.83,1.69,1.76,1.71,1.80,1.66,1.78,1.74,1.73,1.80,1.69,1.75,1.67,1.76,1.74,
1.70,1.76,1.66,1.73,1.79,1.69,1.74,1.64,1.77,1.72,1.68,1.75,1.81,1.71,1.67,1.78,1.70,1.73,1.65,1.76,
1.75,1.67,1.73,1.78,1.70,1.65,1.76,1.72,1.69,1.80,1.71,1.74,1.66,1.77,1.68,1.73,1.79,1.63,1.75,1.70,
1.71,1.78,1.68,1.74,1.64,1.75,1.77,1.70,1.72,1.66,1.81,1.69,1.73,1.76,1.67,1.79,1.70,1.72,1.65,1.74,
1.76,1.69,1.79,1.71,1.67,1.74,1.63,1.77,1.73,1.68,1.75,1.70,1.80,1.66,1.72,1.76,1.69,1.78,1.71,1.65,
1.67,1.74,1.77,1.69,1.73,1.65,1.78,1.72,1.70,1.81,1.68,1.75,1.71,1.64,1.76,1.74,1.66,1.79,1.69,1.73,
1.73,1.67,1.79,1.70,1.65,1.74,1.71,1.76,1.62,1.72,1.69,1.77,1.66,1.75,1.72,1.68,1.78,1.64,1.73,1.70,
1.68,1.76,1.70,1.73,1.79,1.65,1.74,1.67,1.72,1.63,1.77,1.71,1.69,1.75,1.66,1.80,1.70,1.74,1.65,1.73,
1.77,1.69,1.72,1.64,1.75,1.68,1.80,1.66,1.71,1.74,1.70,1.65,1.76,1.73,1.62,1.72,1.75,1.67,1.78,1.69,
1.67,1.74,1.63,1.76,1.72,1.69,1.77,1.66,1.73,1.79,1.68,1.71,1.64,1.75,1.70,1.74,1.65,1.80,1.69,1.72,
1.72,1.65,1.75,1.69,1.78,1.67,1.73,1.62,1.76,1.70,1.74,1.77,1.66,1.71,1.68,1.79,1.64,1.73,1.75,1.69,
1.69,1.76,1.66,1.72,1.79,1.68,1.64,1.75,1.71,1.77,1.70,1.67,1.74,1.80,1.65,1.73,1.69,1.76,1.63,1.74,
1.75,1.70,1.77,1.65,1.73,1.68,1.72,1.63,1.78,1.69,1.76,1.71,1.67,1.74,1.62,1.77,1.70,1.73,1.66,1.79,
1.68,1.73,1.64,1.75,1.72,1.78,1.67,1.74,1.70,1.66,1.73,1.79,1.65,1.71,1.76,1.69,1.63,1.75,1.72,1.68,
1.76,1.67,1.73,1.70,1.80,1.65,1.74,1.69,1.77,1.63,1.72,1.75,1.68,1.66,1.78,1.71,1.70,1.74,1.64,1.73,
1.65,1.74,1.69,1.78,1.67,1.72,1.76,1.62,1.73,1.71,1.68,1.77,1.70,1.75,1.64,1.74,1.79,1.66,1.72,1.69,
1.73,1.66,1.78,1.70,1.74,1.64,1.75,1.71,1.67,1.79,1.69,1.76,1.65,1.72,1.68,1.80,1.63,1.74,1.70,1.75,
1.69,1.77,1.67,1.73,1.63,1.75,1.72,1.66,1.78,1.70,1.74,1.65,1.76,1.71,1.68,1.73,1.79,1.64,1.75,1.70,
1.74,1.68,1.72,1.65,1.76,1.73,1.64,1.77,1.69,1.75,1.66,1.71,1.79,1.67,1.73,1.70,1.76,1.62,1.72,1.74,
1.66,1.75,1.70,1.78,1.68,1.65,1.73,1.76,1.63,1.72,1.77,1.69,1.67,1.74,1.80,1.66,1.71,1.73,1.65,1.75,
1.72,1.64,1.76,1.69,1.74,1.79,1.67,1.71,1.65,1.77,1.70,1.73,1.62,1.75,1.68,1.78,1.69,1.72,1.76,1.66,
1.75,1.69,1.77,1.66,1.72,1.63,1.74,1.78,1.68,1.71,1.76,1.65,1.73,1.70,1.79,1.67,1.72,1.64,1.74,1.69,
1.68,1.76,1.64,1.73,1.75,1.70,1.66,1.80,1.69,1.77,1.67,1.72,1.74,1.63,1.73,1.76,1.65,1.71,1.78,1.68,
1.72,1.64,1.74,1.70,1.67,1.77,1.62,1.73,1.75,1.68,1.71,1.65,1.79,1.66,1.72,1.69,1.76,1.63,1.73,1.68,
1.66,1.73,1.78,1.64,1.71,1.68,1.75,1.61,1.74,1.70,1.67,1.76,1.69,1.72,1.63,1.77,1.65,1.73,1.71,1.67,
1.75,1.69,1.64,1.73,1.77,1.66,1.72,1.62,1.71,1.76,1.67,1.74,1.65,1.70,1.78,1.68,1.63,1.73,1.71,1.66
];

const xMajorTicks = [0, 2, 4, 6, 8, 10];
const xMinorTicks = [1, 3, 5, 7, 9];
const yMajorTicks = [1, 2, 3];
const yMinorTicks = [1.5, 2.5];
const seriesName = "PH";
const tauAvg = "0.8106 s";
const xLabel = "Decay Time (s)";
const yLabel = "Log Intensity (a.u.)";

const blue = "#55acf8";
const font = "'Liberation Sans', Arial, Helvetica, sans-serif";

const data = decayTime.map((t, i) => ({t, v: logIntensity[i]}))
  .concat(decayTimeB.map((t, i) => ({t, v: logIntensityB[i]})));

const svg = Plot.plot({
  width: 772,
  height: 678,
  marginLeft: 79,
  marginRight: 0,
  marginTop: 27,
  marginBottom: 91,
  style: {fontFamily: font, background: "#fff", color: "#000"},
  x: {domain: [-0.2, 10.81]},
  y: {domain: [1, 3]},
  marks: [
    Plot.dot(data, {x: "t", y: "v", r: 3.3, stroke: blue, strokeWidth: 1.4, fill: "none"}),
    Plot.axisX(xMajorTicks, {tickSize: 10, tickPadding: 10, strokeWidth: 3.5, fontSize: 21, label: null, tickFormat: d => String(d)}),
    Plot.axisX(xMinorTicks, {tickSize: 5, strokeWidth: 3.5, text: null, label: null}),
    Plot.axisY(yMajorTicks, {tickSize: 10, tickPadding: 8, strokeWidth: 3.5, fontSize: 21, label: null, tickFormat: d => String(d)}),
    Plot.axisY(yMinorTicks, {tickSize: 5, strokeWidth: 3.5, text: null, label: null}),
    Plot.ruleY([1, 3], {stroke: "#000", strokeWidth: 4, strokeLinecap: "square"}),
    Plot.ruleX([-0.2], {stroke: "#000", strokeWidth: 4, strokeLinecap: "square"})
  ]
});

const s = d3.select(svg);
s.append("text")
  .attr("x", 431).attr("y", 667)
  .attr("text-anchor", "middle")
  .attr("font-family", font).attr("font-size", 29).attr("fill", "#000")
  .text(xLabel);
s.append("text")
  .attr("transform", "translate(35,290) rotate(-90)")
  .attr("text-anchor", "middle")
  .attr("font-family", font).attr("font-size", 27).attr("fill", "#000")
  .text(yLabel);

// legend
s.append("circle").attr("cx", 608).attr("cy", 88).attr("r", 3.2)
  .attr("fill", "none").attr("stroke", blue).attr("stroke-width", 1.3);
s.append("text")
  .attr("x", 643).attr("y", 97)
  .attr("text-anchor", "start")
  .attr("font-family", font).attr("font-size", 23).attr("font-weight", "bold").attr("fill", blue)
  .text(seriesName);
const tl = s.append("text")
  .attr("x", 582).attr("y", 128)
  .attr("text-anchor", "start")
  .attr("font-family", font).attr("font-size", 24).attr("font-weight", "bold").attr("fill", blue);
tl.append("tspan").text("T");
tl.append("tspan").attr("font-size", 16).attr("dy", 5).text("avg");
tl.append("tspan").attr("dy", -5).text(" = " + tauAvg);

document.getElementById("chart").appendChild(svg);
</script>
</body>
</html>
